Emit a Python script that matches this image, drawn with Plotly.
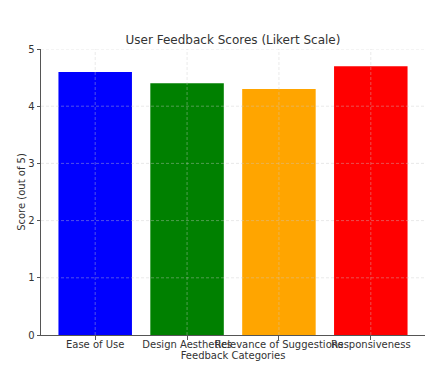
import plotly.graph_objects as go

categories = ["Ease of Use", "Design Aesthetics", "Relevance of Suggestions", "Responsiveness"]
scores = [4.6, 4.4, 4.3, 4.7]
colors = ["blue", "green", "orange", "red"]
y_ticks = [0, 1, 2, 3, 4, 5]

x_pos = list(range(len(categories)))

fig = go.Figure()
fig.add_trace(go.Bar(
    x=x_pos, y=scores, width=0.8,
    marker=dict(color=colors, line=dict(width=0)),
))

grid_line = dict(color="rgba(200,200,200,0.5)", width=0.8, dash="3px,2px")
for yv in y_ticks[1:]:
    fig.add_shape(type="line", xref="paper", x0=0, x1=1, yref="y", y0=yv, y1=yv,
                  line=grid_line, layer="above")
for xv in x_pos:
    fig.add_shape(type="line", xref="x", x0=xv, x1=xv, yref="paper", y0=0, y1=1,
                  line=grid_line, layer="above")

# page body has an 8px margin, so the figure is sized to fit inside the window
W, H = 429, 362
font = dict(family="DejaVu Sans", size=10, color="#333")
fig.update_layout(
    width=W, height=H,
    margin=dict(l=33, r=12, t=41, b=35),
    plot_bgcolor="white", paper_bgcolor="white",
    showlegend=False,
    font=font,
    title=dict(text="User Feedback Scores (Likert Scale)", x=0.5, xref="paper",
               xanchor="center", y=1 - 32 / H, yanchor="middle",
               font=dict(family="DejaVu Sans", size=12, color="#333")),
)
fig.update_xaxes(
    range=[-0.59, 3.59], tickmode="array", tickvals=x_pos, ticktext=categories,
    tickangle=0, automargin=False,
    showline=True, linecolor="#555", linewidth=1,
    ticks="outside", ticklen=3.5, tickcolor="#555",
    ticklabelstandoff=-4,
    showgrid=False,
    title=dict(text="Feedback Categories", standoff=1, font=dict(size=10)),
    zeroline=False,
)
fig.update_yaxes(
    range=[0, 5], tickmode="array", tickvals=y_ticks, automargin=False,
    showline=True, linecolor="#555", linewidth=1,
    ticks="outside", ticklen=3.5, tickcolor="#555",
    showgrid=False,
    title=dict(text="Score (out of 5)", standoff=0, font=dict(size=10)),
    zeroline=False,
)
fig.write_html("out.html")
